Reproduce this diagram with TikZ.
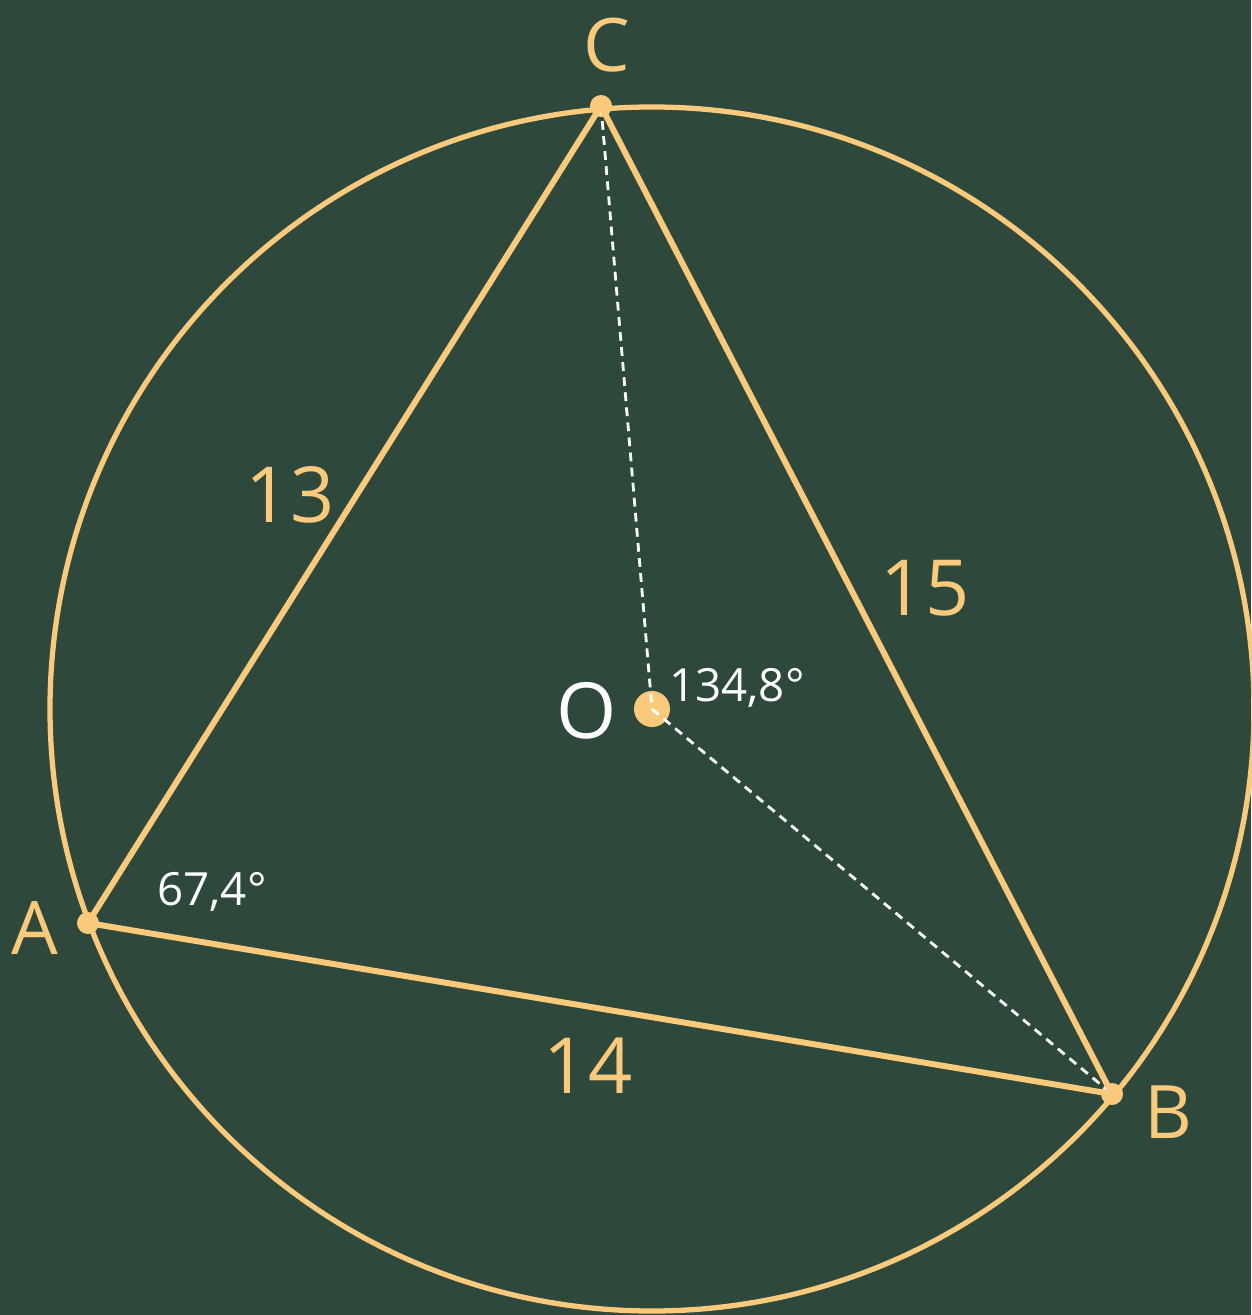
\documentclass[tikz,border=0pt]{standalone}
\usepackage{fontspec}
\setmainfont{Open Sans}
\usepackage{xcolor}
\usetikzlibrary{positioning, calc}
\definecolor{board}{HTML}{2E483C}
\definecolor{chalk}{HTML}{F9C97C}
\begin{document}
\begin{tikzpicture}[x=0.01cm, y=-0.01cm, every node/.style={font=\sffamily}]
  \fill[board] (0,0) rectangle (1251,1315);
  \useasboundingbox (0,0) rectangle (1251,1315);
  % 顶点与圆心
  \node[circle, fill=chalk, inner sep=0pt, minimum size=3.6mm] (O) at (652,709) {};
  \node[circle, fill=chalk, inner sep=0pt, minimum size=2.2mm] (C) at (601,106) {};
  \node[circle, fill=chalk, inner sep=0pt, minimum size=2.2mm] (A) at (88,923) {};
  \node[circle, fill=chalk, inner sep=0pt, minimum size=2.2mm] (B) at (1112,1094) {};
  % 外接圆
  \draw[chalk, line width=1.5pt] (O.center) circle (602);
  % 半径
  \draw[white, line width=0.8pt, dash pattern=on 2.5pt off 1.8pt] (C.center) -- (O.center);
  \draw[white, line width=0.8pt, dash pattern=on 2.5pt off 1.8pt] (O.center) -- (B.center);
  % 三角形
  \draw[chalk, line width=1.7pt, line join=round] (A.center) -- (C.center) -- (B.center) -- cycle;
  % 顶点名
  \node[text=chalk, font=\fontsize{21}{21}\selectfont] (lC) at (607,45) {C};
  \node[text=chalk, font=\fontsize{21}{21}\selectfont] (lA) at (35,928) {A};
  \node[text=chalk, font=\fontsize{21}{21}\selectfont] (lB) at (1168,1112) {B};
  \node[text=white, font=\fontsize{22}{22}\selectfont] (lO) at (587,711) {O};
  % 边长
  \node[text=chalk, font=\fontsize{22}{22}\selectfont] (s13) at (290,495) {13};
  \node[text=chalk, font=\fontsize{22}{22}\selectfont] (s15) at (925,588) {15};
  \node[text=chalk, font=\fontsize{22}{22}\selectfont] (s14) at (588,1066) {14};
  % 角度
  \node[text=white, font=\fontsize{13}{13}\selectfont] (aO) at (737,688) {134,8°};
  \node[text=white, font=\fontsize{13}{13}\selectfont] (aA) at (212,892) {67,4°};
\end{tikzpicture}
\end{document}
